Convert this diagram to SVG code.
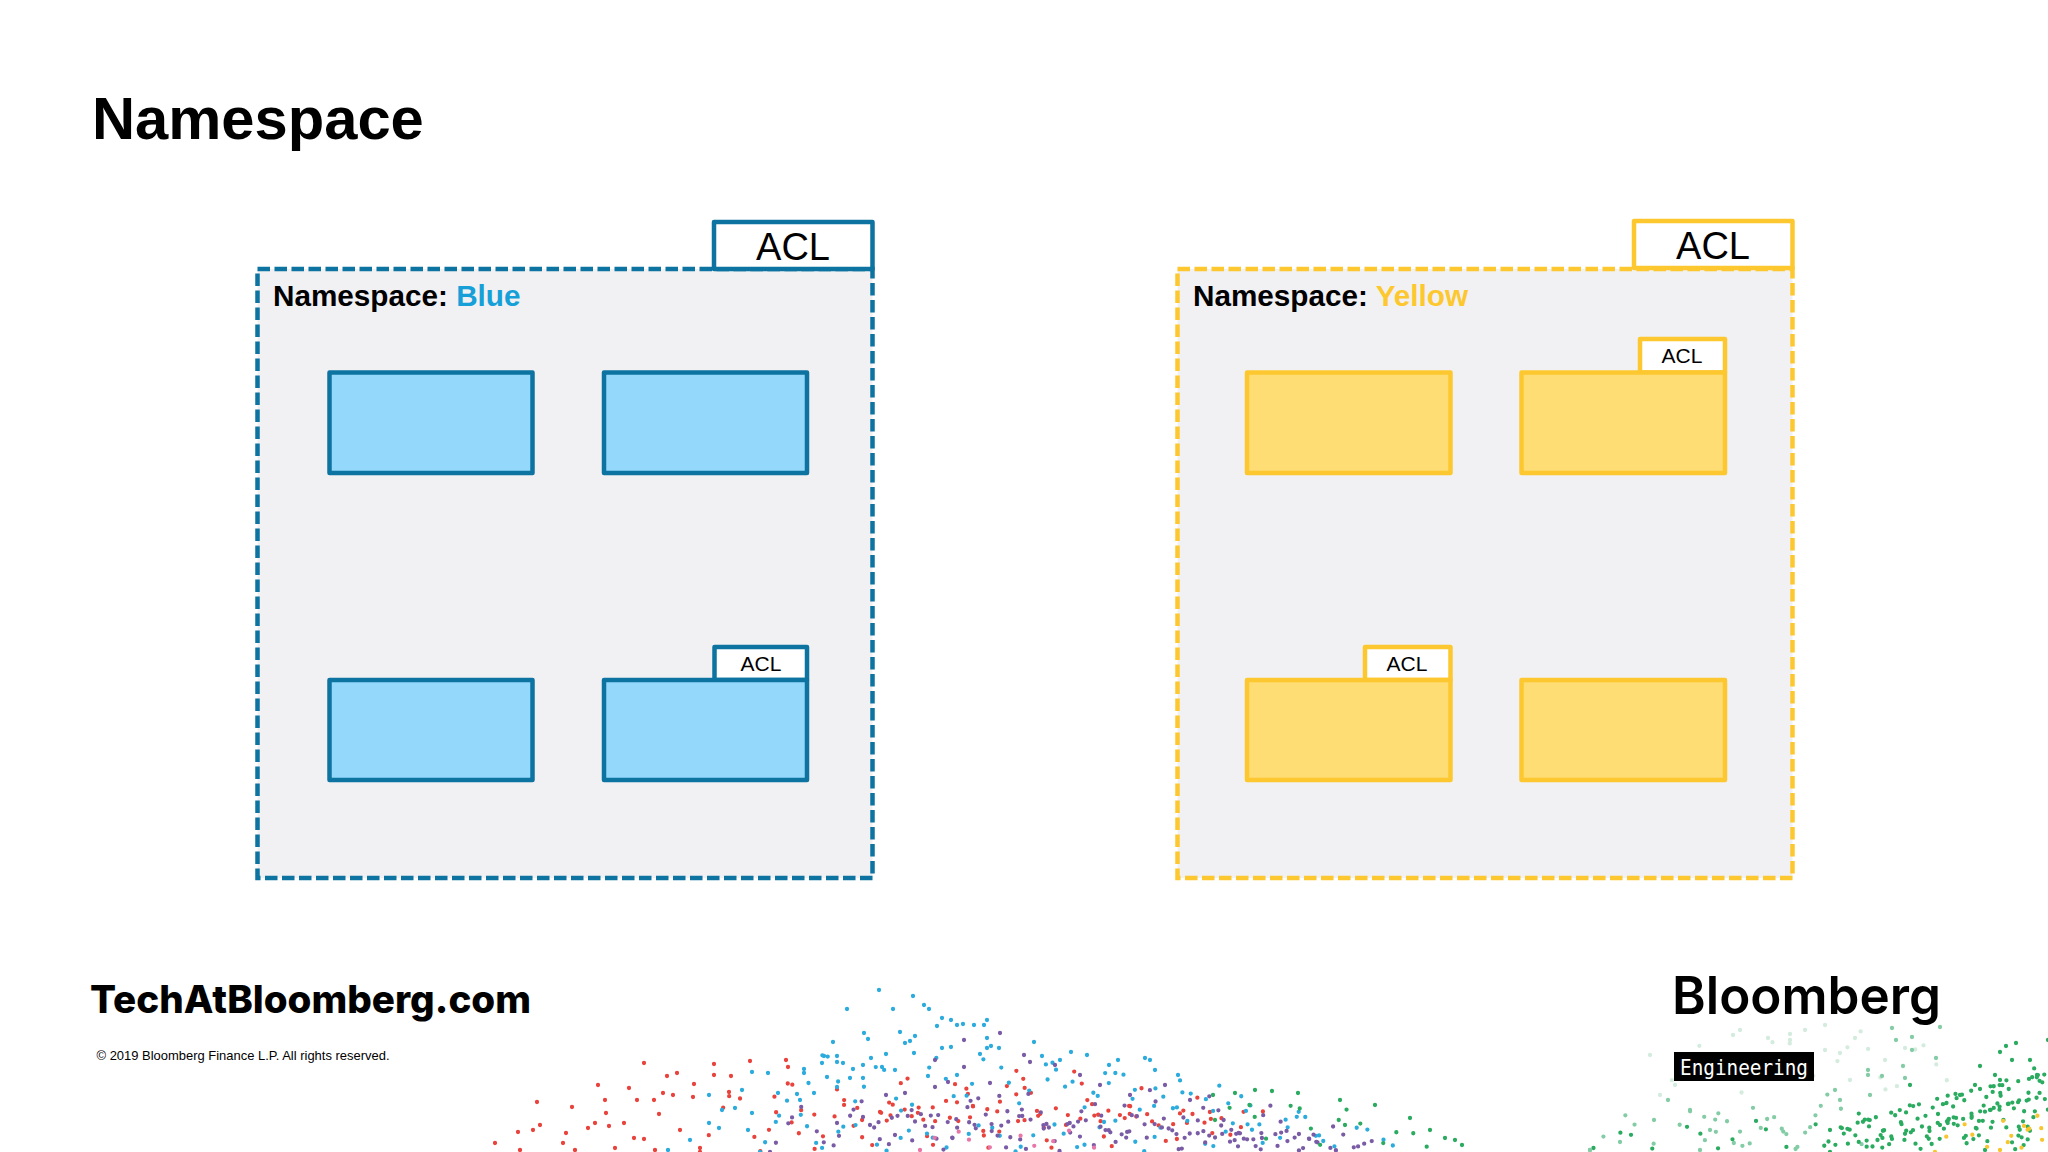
<svg xmlns="http://www.w3.org/2000/svg" width="2048" height="1152" viewBox="0 0 2048 1152">
<style>
text{font-family:"Liberation Sans",Arial,sans-serif;fill:#000}
.b{font-weight:700}
.ns{fill:#F1F1F3;stroke-width:4.500;stroke-dasharray:12.500 4.500}
.bs{stroke:#0D73A0}
.ys{stroke:#FDC82F}
.bf{fill:#94D9FC;stroke-width:4.500;stroke-linejoin:round}
.yf{fill:#FEDD75;stroke-width:4.500;stroke-linejoin:round}
.tab{fill:#fff;stroke-width:4.500;stroke-linejoin:round}
.big{font-size:38px;text-anchor:middle}
.small{font-size:21px;text-anchor:middle}
.lab{font-size:29.700px;font-weight:700}
.d{fill:none;stroke-linecap:round;stroke-linejoin:round;stroke-width:4.300}
.r{stroke:#E8433C}.c{stroke:#2CABDD}.p{stroke:#7A5CA6}.g{stroke:#2BAB60}.y{stroke:#F7C52E}.m{stroke:#83CCA5}.f{stroke:#D3ECDD}.k{stroke:#E877A8}
.z1{stroke-dasharray:0 19 0 31 0 13 0 27 0 41 0 17 0 23}
.z2{stroke-dasharray:0 11 0 23 0 7 0 17 0 29 0 13 0 19}
.z3{stroke-dasharray:0 9 0 14 0 6 0 19 0 11 0 8 0 16}
</style>

<g id="particles">
<path class="d r" d="M495 1143h0M518 1132h0M533 1130h0M540 1125h0M537 1102h0M572 1107h0M598 1085h0M605 1100h0M606 1113h0M595 1123h0M588 1128h0M609 1126h0M624 1123h0M629 1088h0M644 1063h0M637 1100h0M654 1100h0M663 1093h0M673 1095h0M667 1076h0M677 1073h0M693 1097h0M694 1084h0M659 1114h0M566 1133h0M563 1143h0M634 1138h0M644 1139h0M680 1130h0M714 1064h0M714 1075h0M731 1076h0M750 1061h0M786 1060h0M788 1067h0M729 1092h0M520 1150h0M575 1150h0M615 1148h0M655 1150h0M700 1148h0"/>
<path class="d r z1" d="M700 1152L735 1085L760 1152L790 1078L815 1150L850 1090L875 1152L905 1072L935 1150L965 1085L990 1152L1025 1075L1050 1150L1085 1095L1110 1150L1140 1085L1170 1150L1195 1110L1225 1150"/>
<path class="d r z2" d="M880 1112L905 1120L930 1106L960 1122L990 1108L1020 1122L1050 1110L1085 1120L1115 1108L1150 1122L1185 1112L1215 1120L1250 1110"/>
<path class="d r z1" style="stroke-dashoffset:11" d="M770 1090L800 1135L835 1085L860 1140L895 1095L925 1140L960 1075L985 1135L1015 1068L1045 1130L1075 1070L1105 1130L1135 1100L1165 1135L1195 1095L1230 1135L1265 1110"/>
<path class="d c" d="M879 990h0M913 996h0M847 1009h0M893 1009h0M924 1005h0M929 1009h0M942 1018h0M937 1026h0M951 1020h0M957 1025h0M963 1024h0M974 1025h0M987 1020h0M984 1025h0M900 1032h0M864 1033h0M868 1039h0M833 1042h0M915 1036h0M910 1041h0M905 1043h0M942 1048h0M951 1047h0M987 1038h0M987 1048h0M991 1046h0M999 1048h0M980 1054h0M914 1053h0M886 1054h0M871 1058h0M824 1056h0M837 1056h0M822 1063h0M837 1062h0M843 1063h0M853 1069h0M863 1065h0M882 1067h0M895 1070h0M804 1069h0M752 1072h0M768 1073h0M804 1073h0M827 1077h0M850 1078h0M863 1078h0M928 1076h0M957 1075h0M742 1090h0M709 1095h0M778 1093h0M797 1094h0M814 1093h0M837 1087h0M735 1108h0M722 1110h0M752 1113h0M709 1123h0M719 1128h0M748 1130h0M668 1150h0M690 1140h0M1034 1042h0M1042 1056h0M1060 1060h0M1071 1052h0M1087 1055h0M1109 1065h0M1118 1060h0M1145 1058h0M1150 1060h0M1155 1070h0M1178 1075h0"/>
<path class="d c z1" d="M800 1100L825 1050L850 1110L880 1060L905 1120L935 1055L960 1110L990 1045L1020 1105L1050 1058L1080 1115L1110 1065L1140 1110L1170 1068L1200 1105L1225 1080L1255 1110"/>
<path class="d c z2" d="M760 1152L790 1095L820 1150L850 1120L885 1152L915 1125L950 1150L985 1120L1015 1152L1050 1120L1080 1150L1110 1115L1145 1152L1175 1105L1210 1150L1240 1115L1270 1152L1300 1110L1330 1150L1360 1125L1400 1150"/>
<path class="d c z1" style="stroke-dashoffset:23" d="M1030 1100L1060 1065L1090 1105L1120 1070L1150 1110L1175 1085L1205 1115L1235 1100L1265 1130L1295 1115L1325 1145"/>
<path class="d p" d="M935 1060h0M964 1040h0M1000 1033h0M964 1067h0M948 1082h0M990 1083h0M935 1087h0M886 1095h0M905 1093h0M837 1123h0M863 1117h0M1024 1055h0M1030 1062h0M1055 1065h0M1080 1075h0M1100 1085h0M1130 1095h0M1165 1085h0M1190 1100h0"/>
<path class="d p z2" d="M770 1152L800 1105L830 1152L860 1098L885 1150L915 1105L945 1152L975 1092L1005 1150L1030 1090L1060 1152L1090 1095L1120 1150L1150 1090L1180 1152L1210 1095L1240 1150L1270 1105L1300 1152L1325 1120L1365 1152"/>
<path class="d p z3" d="M870 1125L900 1115L930 1128L960 1118L990 1132L1020 1115L1050 1128L1085 1120L1120 1135L1150 1122L1185 1138L1220 1125L1255 1140L1290 1130L1330 1148"/>
<path class="d p z1" style="stroke-dashoffset:7" d="M905 1150L935 1110L960 1150L1000 1095L1025 1150L1060 1110L1090 1150L1125 1105L1155 1150L1190 1110L1220 1150L1250 1125L1285 1150"/>
<path class="d p z3" style="stroke-dashoffset:31" d="M1190 1150L1230 1130L1265 1152L1300 1135L1340 1152L1375 1140"/>
<path class="d k z1" d="M920 1150L950 1125L985 1152L1010 1128L1040 1150L1070 1130L1100 1152"/>
<path class="d g" d="M1213 1095h0M1235 1093h0M1255 1090h0M1272 1091h0M1298 1093h0M1340 1100h0M1375 1105h0M1345 1125h0M1410 1118h0M1430 1130h0M1445 1138h0M1462 1145h0M1455 1140h0"/>
<path class="d g z1" d="M1215 1120L1245 1095L1265 1140L1295 1100L1320 1145L1350 1105L1375 1150L1405 1125L1430 1150"/>
<path class="d g z1" style="stroke-dashoffset:15" d="M1590 1150L1625 1130L1650 1150L1690 1125L1720 1150L1755 1120L1790 1150L1825 1115"/>
<path class="d m" d="M1654 1120h0M1668 1100h0M1690 1110h0M1710 1130h0M1620 1142h0M1590 1150h0"/>
<path class="d f" d="M1650 1055h0M1733 1035h0M1740 1030h0M1768 1038h0M1790 1034h0M1805 1030h0M1825 1025h0M1855 1038h0M1825 1050h0M1840 1053h0M1885 1060h0M1905 1048h0M1675 1085h0M1725 1055h0M1790 1040h0M1850 1080h0"/>
<path class="d f z1" d="M1660 1095L1700 1045L1740 1095L1780 1030L1820 1085L1860 1030L1890 1100L1920 1040L1950 1085"/>
<path class="d m z1" d="M1590 1150L1625 1115L1660 1150L1695 1105L1730 1150L1760 1095L1795 1150L1830 1090L1865 1150"/>
<path class="d m z2" d="M1700 1150L1720 1110L1745 1150L1770 1115L1800 1150L1820 1105"/>
<path class="d m" d="M1892 1028h0M1940 1027h0M1896 1040h0M1912 1037h0M1912 1050h0M1936 1058h0M1905 1078h0M1903 1066h0M1868 1070h0M1882 1076h0M1835 1090h0M1840 1100h0M1870 1095h0M1868 1075h0"/>
<path class="d g" d="M2016 1043h0M2006 1046h0M2000 1052h0M2030 1060h0M1980 1066h0M2000 1080h0M2048 1040h0M2037 1075h0M1960 1095h0M1975 1085h0M1995 1075h0M2012 1060h0M1910 1085h0"/>
<path class="d g z3" d="M1830 1152L1860 1112L1885 1152L1910 1105L1935 1150L1960 1090L1985 1150L2005 1075L2025 1150L2048 1060"/>
<path class="d g z2" d="M1830 1130L1870 1120L1900 1145L1935 1105L1970 1140L2000 1095L2035 1135"/>
<path class="d g z3" style="stroke-dashoffset:17" d="M1820 1150L1845 1125L1870 1150L1895 1115L1920 1150L1945 1100L1970 1150L1990 1085L2015 1150L2035 1065L2048 1110"/>
<path class="d g z3" style="stroke-dashoffset:40" d="M1850 1125L1900 1110L1950 1095L2000 1085L2048 1075M1840 1145L1900 1135L1960 1120L2020 1100M1930 1125L1985 1110L2048 1095"/>
<path class="d y z1" d="M1935 1152L1960 1118L1985 1152L2000 1115L2020 1152L2035 1108L2048 1150"/>
<path class="d y z2" d="M2000 1150L2025 1125L2048 1145"/>
</g>

<g id="title"><text class="b" x="92" y="139" font-size="59.700">Namespace</text></g>

<g id="namespace-blue">
<rect class="ns bs" x="257.500" y="269" width="615" height="609"/>
<rect class="tab bs" x="714" y="222" width="158.500" height="47"/>
<text class="big" x="793" y="260">ACL</text>
<text class="lab" x="273" y="306">Namespace: <tspan style="fill:#17A0D8">Blue</tspan></text>
</g>
<g id="blue-1"><rect class="bf bs" x="329.500" y="372.500" width="203" height="100.500"/></g>
<g id="blue-2"><rect class="bf bs" x="604" y="372.500" width="203" height="100.500"/></g>
<g id="blue-3"><rect class="bf bs" x="329.500" y="680" width="203" height="100"/></g>
<g id="blue-4">
<rect class="tab bs" x="714.500" y="647" width="92.500" height="33"/>
<rect class="bf bs" x="604" y="680" width="203" height="100"/>
<text class="small" x="761" y="671">ACL</text>
</g>

<g id="namespace-yellow">
<rect class="ns ys" x="1177.500" y="269" width="615" height="609"/>
<rect class="tab ys" x="1634" y="221" width="158.500" height="47"/>
<text class="big" x="1713" y="259">ACL</text>
<text class="lab" x="1193" y="306">Namespace: <tspan style="fill:#FDC82F">Yellow</tspan></text>
</g>
<g id="yellow-1"><rect class="yf ys" x="1247" y="372.500" width="203.500" height="100.500"/></g>
<g id="yellow-2">
<rect class="tab ys" x="1640" y="339" width="85" height="33.500"/>
<rect class="yf ys" x="1521.500" y="372.500" width="203.500" height="100.500"/>
<text class="small" x="1682" y="363">ACL</text>
</g>
<g id="yellow-3">
<rect class="tab ys" x="1365" y="647" width="85.500" height="33"/>
<rect class="yf ys" x="1247" y="680" width="203.500" height="100"/>
<text class="small" x="1407" y="671">ACL</text>
</g>
<g id="yellow-4"><rect class="yf ys" x="1521.500" y="680" width="203.500" height="100"/></g>

<g id="connectors"></g>

<g id="footer">
<text x="90" y="1013" style="font-family:Inter,Lato,sans-serif;font-weight:800" font-size="38.500" textLength="441" lengthAdjust="spacingAndGlyphs">TechAtBloomberg.com</text>
<text x="96.500" y="1060" font-size="13.300" textLength="293" lengthAdjust="spacingAndGlyphs">© 2019 Bloomberg Finance L.P. All rights reserved.</text>
<text x="1672" y="1014" style="font-family:Inter,Lato,sans-serif;font-weight:600" font-size="52" textLength="269" lengthAdjust="spacingAndGlyphs">Bloomberg</text>
<rect x="1674" y="1052" width="140" height="29" fill="#000"/>
<text x="1680" y="1075" style="font-family:'DejaVu Sans Mono',monospace;fill:#fff" font-size="21.500" textLength="128" lengthAdjust="spacingAndGlyphs">Engineering</text>
</g>
</svg>
